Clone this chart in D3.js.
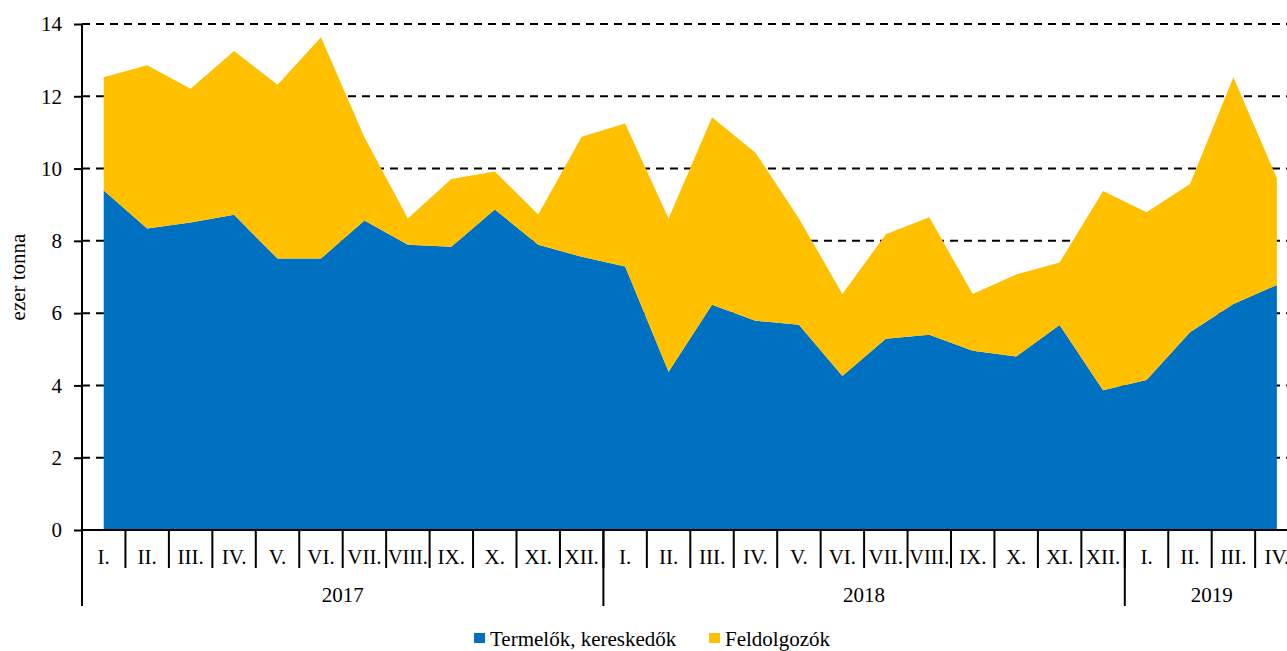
<!DOCTYPE html>
<html>
<head>
<meta charset="utf-8">
<script src="https://cdn.jsdelivr.net/npm/d3@7"></script>
<style>
    body { margin: 0; background: #fff; }
    svg { display: block; overflow: hidden; }
    svg text { font-family: "Liberation Serif", "Times New Roman", serif; fill: #000; }
</style>
</head>
<body>
<svg id="chart" width="1287" height="651"></svg>
<script>
// havi adatok, ezer tonna
let months = ["I.", "II.", "III.", "IV.", "V.", "VI.", "VII.", "VIII.", "IX.", "X.", "XI.", "XII.",
    "I.", "II.", "III.", "IV.", "V.", "VI.", "VII.", "VIII.", "IX.", "X.", "XI.", "XII.",
    "I.", "II.", "III.", "IV."]
let years = [{year: "2017", count: 12}, {year: "2018", count: 12}, {year: "2019", count: 4}]
let termelok = [9.39, 8.34, 8.51, 8.72, 7.51, 7.51, 8.56, 7.89, 7.84, 8.87, 7.89, 7.56,
    7.29, 4.38, 6.23, 5.79, 5.68, 4.26, 5.29, 5.40, 4.96, 4.80, 5.67, 3.87,
    4.15, 5.47, 6.25, 6.78]
let feldolgozok = [3.14, 4.52, 3.70, 4.53, 4.81, 6.12, 2.31, 0.73, 1.87, 1.05, 0.84, 3.32,
    3.96, 4.24, 5.19, 4.65, 2.94, 2.27, 2.89, 3.25, 1.57, 2.27, 1.73, 5.51,
    4.64, 4.10, 6.28, 2.95]
let yTicks = [0, 2, 4, 6, 8, 10, 12, 14]
let seriesNames = ["Termelők, kereskedők", "Feldolgozók"]
let colors = ["#0070C0", "#FFC000"]

let margin = ({top: 24, left: 82, bottom: 121})
let band = 43.45
let height = 651
let fontSize = 21

let data = months.map((m, i) => ({idx: i, t: termelok[i], f: feldolgozok[i]}))
let stacked = d3.stack().keys(["t", "f"])(data)

let x = d3.scaleBand()
    .domain(d3.range(months.length))
    .range([margin.left, margin.left + band * months.length])
    .paddingInner(0).paddingOuter(0)
let y = d3.scaleLinear()
    .domain([0, 14])
    .range([height - margin.bottom, margin.top])

const svg = d3.select("#chart")

// rács
svg.append("g")
    .selectAll("line")
    .data(yTicks.filter(d => d > 0))
    .join("line")
    .attr("x1", margin.left)
    .attr("x2", x.range()[1])
    .attr("y1", d => y(d))
    .attr("y2", d => y(d))
    .attr("stroke", "#000")
    .attr("stroke-width", 2)
    .attr("stroke-dasharray", "8,6")

// területek
let area = d3.area()
    .x(d => x(d.data.idx) + x.bandwidth() / 2)
    .y0(d => y(d[0]))
    .y1(d => y(d[1]))
svg.append("g")
    .selectAll("path")
    .data(stacked)
    .join("path")
    .attr("fill", (d, i) => colors[i])
    .attr("d", area)

// y tengely
svg.append("g")
    .attr("transform", `translate(${margin.left},0)`)
    .call(d3.axisLeft(y).tickValues(yTicks).tickSize(8).tickPadding(12).tickFormat(d3.format("d")))
    .call(g => g.select(".domain").attr("stroke-width", 2).attr("d", `M0,${y(14)}V${y(0)}`))
    .call(g => g.selectAll(".tick line").attr("stroke-width", 2))
    .call(g => g.selectAll(".tick text").attr("font-size", fontSize))

svg.append("text")
    .attr("transform", `translate(18,${(y(0) + y(14)) / 2}) rotate(-90)`)
    .attr("text-anchor", "middle")
    .attr("dy", "0.35em")
    .attr("font-size", fontSize)
    .text("ezer tonna")

// x tengely
let base = y(0)
svg.append("line")
    .attr("x1", margin.left).attr("x2", x.range()[1])
    .attr("y1", base).attr("y2", base)
    .attr("stroke", "#000").attr("stroke-width", 2)

svg.append("g")
    .selectAll("line")
    .data(d3.range(1, months.length + 1))
    .join("line")
    .attr("x1", d => margin.left + d * band)
    .attr("x2", d => margin.left + d * band)
    .attr("y1", base)
    .attr("y2", base + 38)
    .attr("stroke", "#000")
    .attr("stroke-width", 2)

svg.append("g")
    .selectAll("text")
    .data(months)
    .join("text")
    .attr("x", (d, i) => x(i) + x.bandwidth() / 2)
    .attr("y", base + 34)
    .attr("text-anchor", "middle")
    .attr("font-size", fontSize)
    .attr("textLength", d => d.length > 4 ? 40 : null)
    .attr("lengthAdjust", "spacingAndGlyphs")
    .text(d => d)

// évek
let start = 0
let yearPos = years.map(d => {
    let r = {year: d.year, from: start, to: start + d.count}
    start += d.count
    return r
})
svg.append("g")
    .selectAll("line")
    .data([0].concat(yearPos.map(d => d.to)))
    .join("line")
    .attr("x1", d => margin.left + d * band)
    .attr("x2", d => margin.left + d * band)
    .attr("y1", base)
    .attr("y2", base + 76)
    .attr("stroke", "#000")
    .attr("stroke-width", 2)

svg.append("g")
    .selectAll("text")
    .data(yearPos)
    .join("text")
    .attr("x", d => margin.left + (d.from + d.to) / 2 * band)
    .attr("y", base + 72)
    .attr("text-anchor", "middle")
    .attr("font-size", fontSize)
    .text(d => d.year)

// jelmagyarázat
let legend = svg.append("g")
let lx = [474, 709]
seriesNames.forEach((name, i) => {
    legend.append("rect")
        .attr("x", lx[i]).attr("y", 633)
        .attr("width", 11).attr("height", 10)
        .attr("fill", colors[i])
    legend.append("text")
        .attr("x", lx[i] + 16).attr("y", 646)
        .attr("font-size", fontSize)
        .text(name)
})
</script>
</body>
</html>
